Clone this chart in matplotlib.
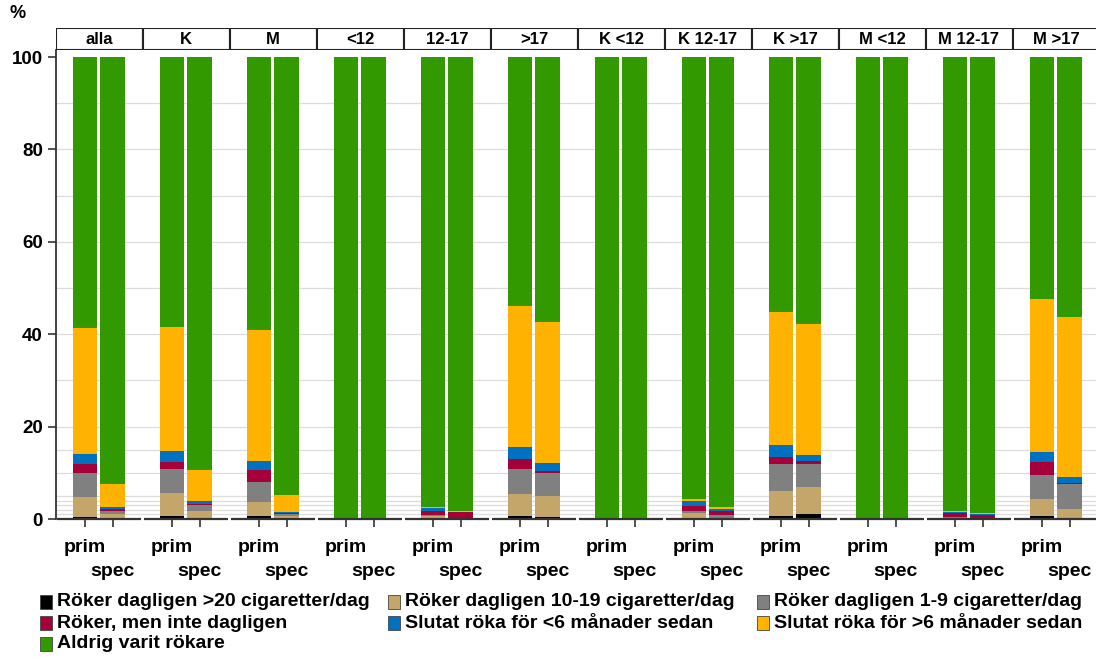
import numpy as np
import matplotlib
matplotlib.use('Agg')
import matplotlib.pyplot as plt
import matplotlib.patches as patch

plt.rcParams['font.family'] = ['Liberation Sans', 'DejaVu Sans']
plt.rcParams['font.weight'] = 'bold'

#Panel headers and bar names
groups = ['alla', 'K', 'M', '<12', '12-17', '>17', 'K <12', 'K 12-17', 'K >17', 'M <12', 'M 12-17', 'M >17']
barnames = ['prim', 'spec']

#Legend text, bottom segment first
labels = ['Röker dagligen >20 cigaretter/dag', 'Röker dagligen 10-19 cigaretter/dag',
          'Röker dagligen 1-9 cigaretter/dag', 'Röker, men inte dagligen',
          'Slutat röka för <6 månader sedan', 'Slutat röka för >6 månader sedan',
          'Aldrig varit rökare']
colors = ['#000000', '#c4a66b', '#808080', '#a5003a', '#0070c0', '#ffb300', '#339900']

#prim values (%)
black_prim  = [0.5, 0.6, 0.6, 0, 0.1, 0.7, 0, 0.1, 0.7, 0, 0.1, 0.7]
tan_prim    = [4.3, 5.1, 3.1, 0, 0.5, 4.7, 0, 1.2, 5.35, 0, 0.2, 3.6]
grey_prim   = [5.1, 5.2, 4.4, 0, 0.3, 5.4, 0, 0.4, 5.75, 0, 0.1, 5.2]
red_prim    = [2.0, 1.5, 2.5, 0, 0.8, 2.1, 0, 1.1, 1.7, 0, 1.0, 2.9]
blue_prim   = [2.2, 2.4, 1.95, 0, 0.6, 2.6, 0, 1.1, 2.5, 0, 0.2, 2.2]
yellow_prim = [27.2, 26.8, 28.3, 0, 0.4, 30.6, 0, 0.4, 28.9, 0, 0.2, 32.95]
green_prim  = [58.7, 58.4, 59.15, 100, 97.3, 53.9, 100, 95.7, 55.1, 100, 98.2, 52.45]

#spec values (%)
black_spec  = [0.2, 0.2, 0.1, 0, 0.1, 0.5, 0, 0.1, 1.0, 0, 0.1, 0.1]
tan_spec    = [0.8, 1.6, 0.5, 0, 0.1, 4.5, 0, 0.2, 6.0, 0, 0.1, 2.0]
grey_spec   = [0.8, 1.2, 0.4, 0, 0.1, 4.9, 0, 0.6, 4.8, 0, 0.1, 5.4]
red_spec    = [0.3, 0.3, 0.4, 0, 1.2, 0.5, 0, 0.9, 0.75, 0, 0.6, 0.2]
blue_spec   = [0.4, 0.6, 0.1, 0, 0.1, 1.65, 0, 0.3, 1.3, 0, 0.1, 1.45]
yellow_spec = [5.0, 6.6, 3.6, 0, 0.2, 30.65, 0, 0.5, 28.25, 0, 0.2, 34.65]
green_spec  = [92.5, 89.5, 94.9, 100, 98.2, 57.3, 100, 97.4, 57.9, 100, 98.8, 56.2]

prim = [black_prim, tan_prim, grey_prim, red_prim, blue_prim, yellow_prim, green_prim]
spec = [black_spec, tan_spec, grey_spec, red_spec, blue_spec, yellow_spec, green_spec]

W, H = 1096, 657
fig = plt.figure(figsize=(W/100, H/100), dpi=100)

x0, x1 = 55.5, 1096
ytop, ybot = 50, 519
ax = fig.add_axes([x0/W, 1 - ybot/H, (x1 - x0)/W, (ybot - ytop)/H])
xmax = (x1 - x0)/87.0
ax.set_xlim(0, xmax)
ax.set_ylim(0, (ybot - ytop)/4.62)

n = len(groups)
idx = np.arange(n)
pos_prim = idx + 0.339
pos_spec = idx + 0.657
bw = 0.282

#gridlines
for g in [1, 2, 3, 4, 5, 10, 15, 20, 30, 40, 50, 60, 70, 80, 90]:
    ax.axhline(g, color='#dcdcdc', lw=0.9, zorder=0)

for vals, pos in [(prim, pos_prim), (spec, pos_spec)]:
    bottom = np.zeros(n)
    for v, c in zip(vals, colors):
        v = np.array(v)
        ax.bar(pos, v, bw, bottom=bottom, color=c, linewidth=0, zorder=2)
        bottom += v

#axes styling
for s in ['top', 'right', 'bottom']:
    ax.spines[s].set_visible(False)
ax.spines['left'].set_linewidth(1.3)
ax.spines['left'].set_color('#333333')
ax.set_yticks([0, 20, 40, 60, 80, 100])
ax.tick_params(axis='y', length=6, width=1.2, color='#333333', labelsize=13.5, pad=3)
ax.set_xticks(np.concatenate([pos_prim, pos_spec]))
ax.set_xticklabels([])
ax.tick_params(axis='x', length=6, width=1.2, color='#333333', direction='out')

#broken baseline under each panel
for i in idx:
    ax.plot([i + 0.015, i + 0.985], [0, 0], color='#333333', lw=1.6, clip_on=False, zorder=3,
            solid_capstyle='butt')

trans = ax.get_xaxis_transform()
for i in idx:
    ax.text(pos_prim[i], -29/469, barnames[0], transform=trans, ha='center', va='center', fontsize=14)
    ax.text(pos_spec[i], -52/469, barnames[1], transform=trans, ha='center', va='center', fontsize=14)

#header boxes
hax = fig.add_axes([x0/W, 1 - 50/H, (x1 - x0)/W, 22/H])
hax.set_xlim(0, xmax)
hax.set_ylim(0, 1)
hax.axis('off')
for i in idx:
    hax.add_patch(patch.Rectangle((i, 0), 1, 1, facecolor='white', edgecolor='#222222', lw=1.5, clip_on=True))
    hax.text(i + 0.5, 0.47, groups[i], ha='center', va='center', fontsize=12)

fig.text(10/W, 1 - 14/H, '%', ha='left', va='center', fontsize=13)

#legend
colx = [40, 388, 757]
rowy = [602, 623, 644]
for k, (lab, c) in enumerate(zip(labels, colors)):
    r, cc = k // 3, k % 3
    fig.add_artist(patch.Rectangle((colx[cc]/W, 1 - (rowy[r] + 7)/H), 12/W, 14/H,
                                   transform=fig.transFigure, facecolor=c,
                                   edgecolor='#444444', lw=0.6))
    fig.text((colx[cc] + 17)/W, 1 - rowy[r]/H, lab, ha='left', va='center', fontsize=14)

fig.savefig('out.png', dpi=100)
